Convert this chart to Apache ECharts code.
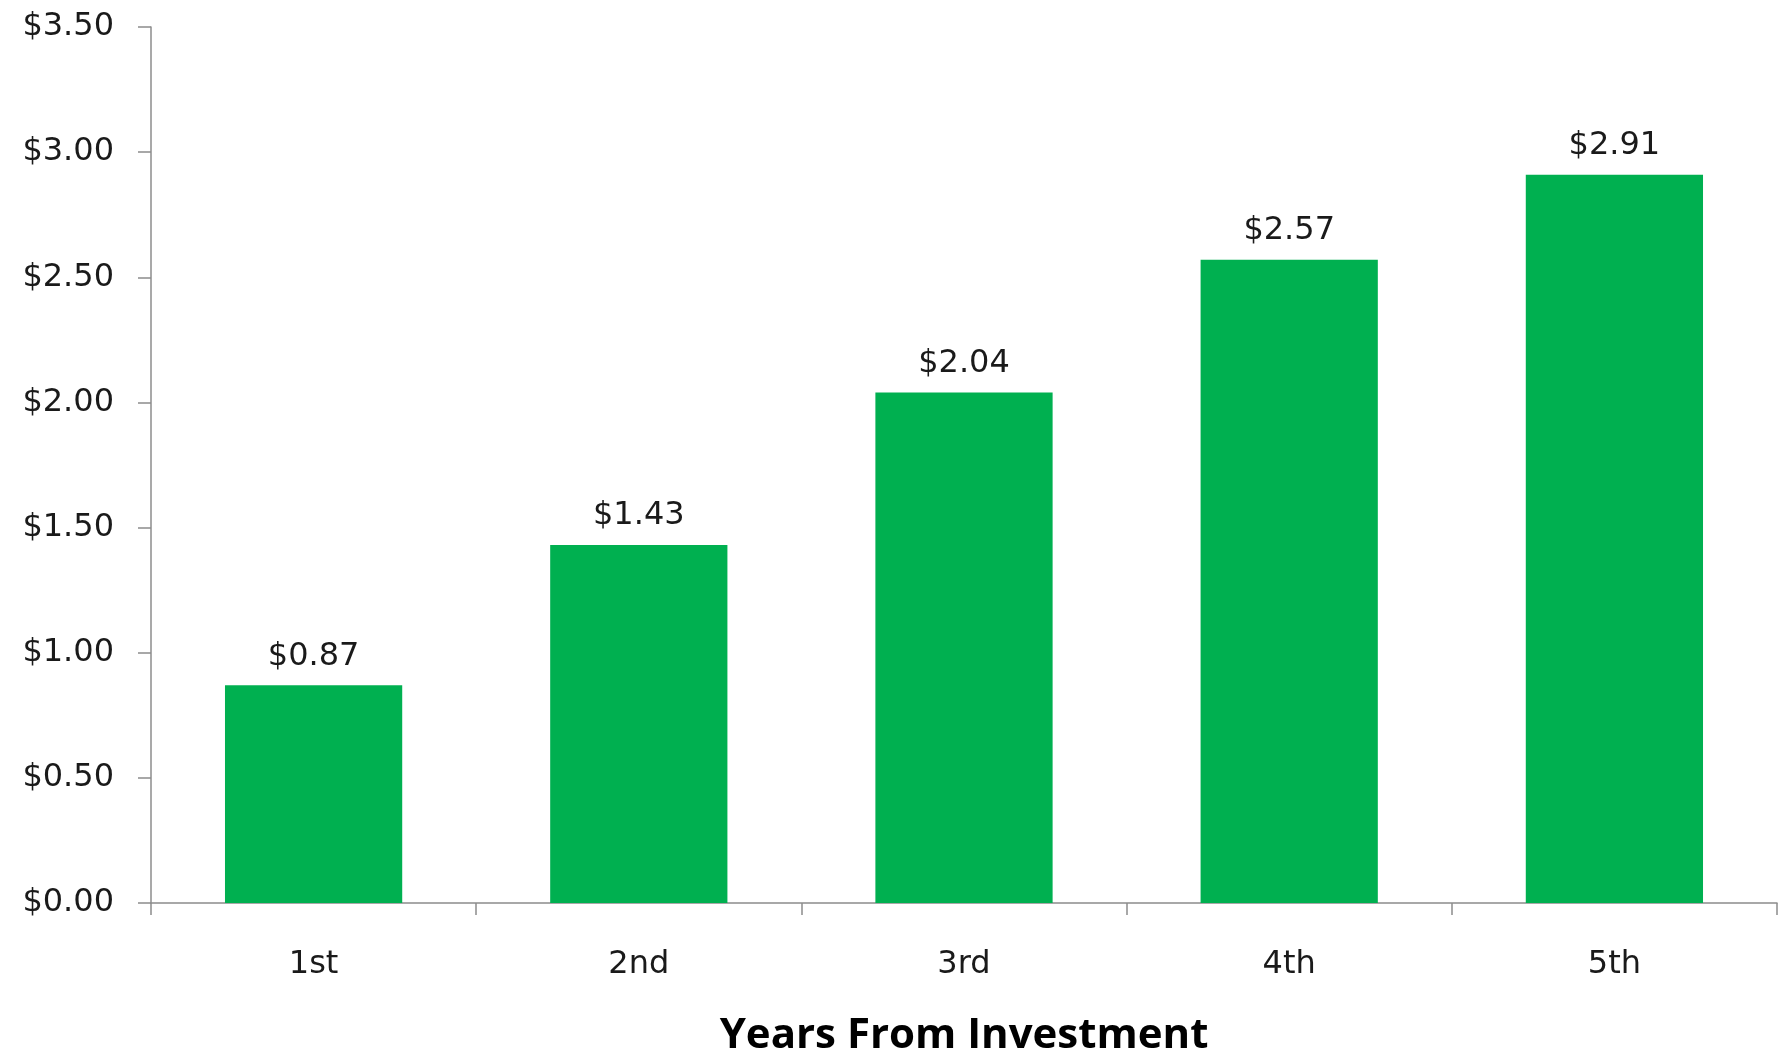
<!DOCTYPE html>
<html>
<head>
<meta charset="utf-8">
<title>Years From Investment</title>
<script src="https://cdn.jsdelivr.net/npm/echarts@6/dist/echarts.min.js"></script>
<style>
  html, body { margin: 0; padding: 0; background: #ffffff; }
  #chart { width: 1783px; height: 1053px; }
</style>
</head>
<body>
<div id="chart"></div>
<script>
// Cumulative return per year after the investment
const years = ['1st', '2nd', '3rd', '4th', '5th'];
const returns = [0.87, 1.43, 2.04, 2.57, 2.91];
const axisName = 'Years From Investment';

const money = v => '$' + Number(v).toFixed(2);
const labelFont = 'DejaVu Sans';

const chart = echarts.init(document.getElementById('chart'));
chart.setOption({
  animation: false,
  backgroundColor: '#ffffff',
  grid: { left: 151, right: 6, top: 27, bottom: 150, containLabel: false, outerBoundsMode: 'none' },
  xAxis: {
    type: 'category',
    data: years,
    name: axisName,
    nameLocation: 'middle',
    nameGap: 112,
    nameTextStyle: { fontFamily: 'Open Sans', fontWeight: 'bold', fontSize: 42, color: '#000000' },
    axisLine: { lineStyle: { color: '#8c8c8c', width: 1.5 } },
    axisTick: { show: true, length: 12, lineStyle: { color: '#8c8c8c', width: 1.5 } },
    axisLabel: { margin: 46, fontFamily: labelFont, fontSize: 32, color: '#1a1a1a' }
  },
  yAxis: {
    type: 'value',
    min: 0,
    max: 3.5,
    interval: 0.5,
    splitLine: { show: false },
    axisLine: { show: true, lineStyle: { color: '#8c8c8c', width: 1.5 } },
    axisTick: { show: true, length: 13, lineStyle: { color: '#8c8c8c', width: 1.5 } },
    axisLabel: { margin: 37, fontFamily: labelFont, fontSize: 32, color: '#1a1a1a', formatter: money }
  },
  series: [{
    type: 'bar',
    data: returns,
    barWidth: '54.5%',
    itemStyle: { color: '#00B050' },
    label: {
      show: true,
      position: 'top',
      distance: 13,
      fontFamily: labelFont,
      fontSize: 32,
      color: '#1a1a1a',
      formatter: p => money(p.value)
    }
  }]
});
</script>
</body>
</html>
